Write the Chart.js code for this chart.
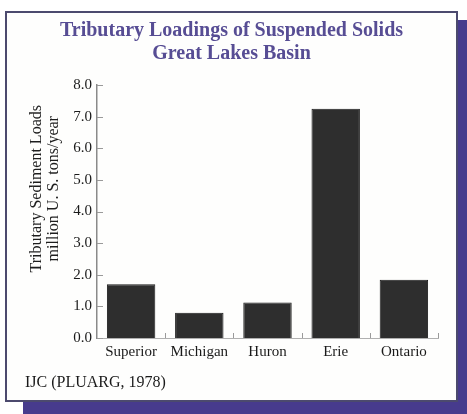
<!DOCTYPE html>
<html>
<head>
<meta charset="utf-8">
<script src="https://cdn.jsdelivr.net/npm/chart.js@4/dist/chart.umd.min.js"></script>
<style>
  html, body { margin: 0; padding: 0; background: #ffffff; }
  .wrap { position: relative; width: 467px; height: 414px; overflow: hidden; }
  .sombra { position: absolute; left: 23px; top: 20px; width: 444px; height: 394px; background: #473b8d; }
  .marco { position: absolute; left: 5px; top: 11px; width: 453px; height: 391px; box-sizing: border-box;
           border: 2px solid #4c4a6e; background: #fefefd; }
  #grafico { position: absolute; left: 0; top: 0; }
</style>
</head>
<body>
<div class="wrap">
  <div class="sombra"></div>
  <div class="marco"></div>
  <canvas id="grafico" width="467" height="414"></canvas>
</div>
<script>
// datos
const lagos = ["Superior", "Michigan", "Huron", "Erie", "Ontario"];
const cargas = [1.70, 0.80, 1.12, 7.25, 1.84];
const titulo = ["Tributary Loadings of Suspended Solids", "Great Lakes Basin"];
const tituloEje = ["Tributary Sediment Loads", "million U. S. tons/year"];
const fuente = "IJC (PLUARG, 1978)";

const serif = "'Liberation Serif', 'Times New Roman', serif";

// marcas cortas hacia dentro en ambos ejes
const marcasInternas = {
  id: "marcasInternas",
  afterDatasetsDraw(chart) {
    const { ctx, scales: { x, y } } = chart;
    ctx.save();
    ctx.strokeStyle = "#9a9a9a";
    ctx.lineWidth = 1;
    y.ticks.forEach((t, i) => {
      const py = Math.round(y.getPixelForTick(i)) + 0.5;
      ctx.beginPath();
      ctx.moveTo(x.left, py);
      ctx.lineTo(x.left + 6, py);
      ctx.stroke();
    });
    for (let i = 1; i <= lagos.length; i++) {
      const px = Math.round(x.getPixelForValue(i - 0.5)) + 0.5;
      ctx.beginPath();
      ctx.moveTo(px, y.bottom);
      ctx.lineTo(px, y.bottom - 5);
      ctx.stroke();
    }
    ctx.restore();
  }
};

// titulo del eje y, algo por encima del centro como en el original
const tituloVertical = {
  id: "tituloVertical",
  afterDraw(chart) {
    const { ctx, chartArea } = chart;
    const cy = chartArea.top + (chartArea.bottom - chartArea.top) * 0.41;
    ctx.save();
    ctx.fillStyle = "#1e1e1e";
    ctx.font = "16px " + serif;
    ctx.textAlign = "center";
    ctx.textBaseline = "middle";
    ctx.translate(chartArea.left - 60, cy);
    ctx.rotate(-Math.PI / 2);
    tituloEje.forEach((linea, i) => ctx.fillText(linea, 0, i * 16.3));
    ctx.restore();
  }
};

new Chart(document.getElementById("grafico").getContext("2d"), {
  type: "bar",
  data: {
    labels: lagos,
    datasets: [{
      data: cargas,
      backgroundColor: "#2e2e2e",
      borderColor: "#1a1a1a",
      borderWidth: 1,
      barPercentage: 0.71,
      categoryPercentage: 1
    }]
  },
  options: {
    responsive: false,
    animation: false,
    layout: { padding: { left: 25, right: 29, top: 0, bottom: 21.4 } },
    plugins: {
      legend: { display: false },
      tooltip: { enabled: false },
      title: {
        display: true,
        text: titulo,
        color: "#574d94",
        font: { family: serif, size: 20, weight: "bold", lineHeight: 1.15 },
        padding: { top: 19.5, bottom: 19.5 }
      },
      subtitle: {
        display: true,
        text: fuente,
        position: "bottom",
        align: "start",
        color: "#1a1a1a",
        font: { family: serif, size: 16, lineHeight: 1.2 },
        padding: 0
      }
    },
    scales: {
      x: {
        afterFit: s => { s.height = 35.4; },
        grid: { display: false, drawTicks: false },
        border: { color: "#b0b0b0", width: 1 },
        ticks: { color: "#1a1a1a", padding: 5, font: { family: serif, size: 15 } }
      },
      y: {
        min: 0,
        max: 8,
        afterFit: s => { s.width = 72; },
        grid: { display: false, drawTicks: false },
        border: { color: "#8a8a8a", width: 1.5 },
        ticks: {
          stepSize: 1,
          padding: 5,
          color: "#1a1a1a",
          font: { family: serif, size: 15 },
          callback: v => v.toFixed(1)
        }
      }
    }
  },
  plugins: [marcasInternas, tituloVertical]
});
</script>
</body>
</html>
